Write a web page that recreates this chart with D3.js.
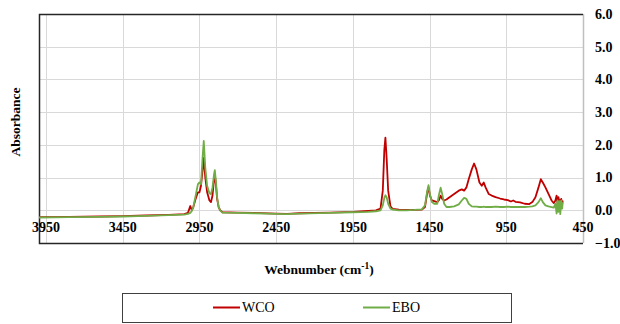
<!DOCTYPE html>
<html><head><meta charset="utf-8">
<script src="https://cdn.jsdelivr.net/npm/d3@7"></script>
<style>
html,body{margin:0;padding:0;background:#fff;}
</style></head>
<body>
<script>
// Data
const wavenumbers = [3996,3800,3600,3450,3300,3150,3050,3025,3010,3000,2990,2975,2960,2950,2940,2930,2922,2912,2900,2885,2875,2865,2855,2850,2843,2835,2825,2815,2800,2700,2600,2450,2380,2350,2300,2100,1950,1850,1800,1770,1755,1745,1738,1730,1720,1705,1690,1650,1600,1550,1500,1480,1465,1457,1448,1435,1420,1400,1390,1378,1368,1355,1340,1320,1290,1260,1240,1225,1210,1195,1175,1160,1145,1125,1110,1097,1085,1065,1045,1020,990,965,940,920,905,890,860,830,800,780,760,740,725,712,695,675,655,640,630,622,616,610,604,598,592,586,582];
const wco = [-0.21,-0.20,-0.19,-0.18,-0.16,-0.14,-0.12,-0.08,0.13,0.0,0.1,0.35,0.55,0.55,0.75,1.2,1.6,1.0,0.55,0.3,0.25,0.45,0.95,1.1,0.8,0.35,0.1,0.0,-0.06,-0.07,-0.08,-0.10,-0.11,-0.10,-0.09,-0.07,-0.05,-0.02,0.0,0.05,0.6,1.85,2.22,1.6,0.6,0.12,0.04,0.02,0.01,0.01,0.02,0.1,0.55,0.7,0.45,0.3,0.28,0.25,0.3,0.45,0.35,0.3,0.33,0.4,0.5,0.6,0.64,0.6,0.7,0.95,1.25,1.43,1.25,0.85,0.75,0.85,0.7,0.5,0.45,0.4,0.36,0.33,0.31,0.27,0.3,0.26,0.24,0.2,0.19,0.25,0.4,0.7,0.95,0.85,0.7,0.5,0.3,0.22,0.3,0.45,0.2,0.4,0.25,0.3,0.35,0.2,0.3];
const ebo = [-0.22,-0.21,-0.20,-0.19,-0.17,-0.15,-0.13,-0.11,-0.08,-0.02,0.1,0.45,0.8,0.85,0.8,1.6,2.12,1.3,0.75,0.52,0.49,0.7,1.1,1.23,0.9,0.4,0.1,0.0,-0.07,-0.08,-0.09,-0.11,-0.12,-0.11,-0.10,-0.08,-0.06,-0.05,-0.03,0.0,0.15,0.38,0.46,0.4,0.2,0.05,0.02,0.0,0.0,0.01,0.03,0.15,0.6,0.77,0.5,0.25,0.2,0.2,0.45,0.69,0.5,0.2,0.1,0.1,0.12,0.18,0.3,0.38,0.35,0.2,0.12,0.11,0.11,0.1,0.1,0.11,0.1,0.1,0.1,0.11,0.1,0.1,0.11,0.1,0.1,0.1,0.1,0.1,0.11,0.12,0.15,0.25,0.37,0.25,0.15,0.12,0.1,0.08,0.2,-0.1,0.3,-0.05,0.28,-0.12,0.3,0.05,0.25];
const seriesNames = ["WCO","EBO"];
const seriesColors = ["#c00000","#70ad47"];
const xTicks = [3950,3450,2950,2450,1950,1450,950,450];
const yTicks = [-1,0,1,2,3,4,5,6];

const FONT = "'Liberation Serif', 'Times New Roman', 'DejaVu Serif', serif";
const W = 620, H = 324;
const svg = d3.select("body").append("svg").attr("width",W).attr("height",H)
  .attr("font-family",FONT).style("font-family",FONT);
const L = 39, R = 583, T = 14, B = 243;
const x = d3.scaleLinear().domain([3996,450]).range([L,R]);
const y = d3.scaleLinear().domain([-1,6]).range([B,T]);

// gridlines
const grid = svg.append("g").attr("stroke","#d9d9d9").attr("stroke-width",1);
grid.selectAll("line.h").data(yTicks).enter().append("line")
  .attr("x1",L).attr("x2",R).attr("y1",d=>Math.round(y(d))+0.5).attr("y2",d=>Math.round(y(d))+0.5);
grid.selectAll("line.v").data(xTicks).enter().append("line")
  .attr("y1",T).attr("y2",B).attr("x1",d=>Math.round(x(d))+0.5).attr("x2",d=>Math.round(x(d))+0.5);

// right axis line (gray)
svg.append("line").attr("x1",R+0.5).attr("x2",R+0.5).attr("y1",T).attr("y2",B).attr("stroke","#bfbfbf").attr("stroke-width",1.5);
// dark border top, left, bottom
svg.append("path").attr("d",`M${R},${T+0.5}H${L+0.5}V${B+0.5}H${R}`).attr("fill","none").attr("stroke","#262626").attr("stroke-width",1.5);

// series
const line = d3.line().x((d,i)=>x(wavenumbers[i])).y(d=>y(d));
[wco, ebo].forEach((s,k)=>{
  svg.append("path").datum(s).attr("d",line).attr("fill","none")
    .attr("stroke",seriesColors[k]).attr("stroke-width",1.8).attr("stroke-linejoin","round");
});

// y tick labels (right)
svg.selectAll("text.yt").data(yTicks).enter().append("text")
  .attr("x",595).attr("y",d=>y(d)).attr("dy","0.35em").attr("font-family",FONT)
  .attr("font-size",14).attr("font-weight","bold").attr("fill","#000")
  .text(d=>d3.format(".1f")(d));
// x tick labels
svg.selectAll("text.xt").data(xTicks).enter().append("text")
  .attr("x",d=>x(d)).attr("y",232).attr("text-anchor","middle").attr("font-family",FONT)
  .attr("font-size",14).attr("font-weight","bold").attr("fill","#000")
  .text(d=>d);

// axis titles
svg.append("text").attr("transform","translate(20,122) rotate(-90)").attr("text-anchor","middle")
  .attr("font-family",FONT).attr("font-size",13.5).attr("font-weight","bold").text("Absorbance");
const xt = svg.append("text").attr("x",319).attr("y",274).attr("text-anchor","middle")
  .attr("font-family",FONT).attr("font-size",13.5).attr("font-weight","bold");
xt.append("tspan").text("Webnumber (cm");
xt.append("tspan").attr("dy",-5).attr("font-size",9.5).text("-1");
xt.append("tspan").attr("dy",5).text(")");

// legend
svg.append("rect").attr("x",122.5).attr("y",293.5).attr("width",389).attr("height",29)
  .attr("fill","#fff").attr("stroke","#404040").attr("stroke-width",1);
const legX = [213,363];
seriesNames.forEach((n,k)=>{
  svg.append("line").attr("x1",legX[k]).attr("x2",legX[k]+27).attr("y1",307.5).attr("y2",307.5)
    .attr("stroke",seriesColors[k]).attr("stroke-width",2);
  svg.append("text").attr("x",legX[k]+29).attr("y",307.5).attr("dy","0.35em").attr("font-family",FONT)
    .attr("font-size",14).text(n);
});
</script>
</body></html>
